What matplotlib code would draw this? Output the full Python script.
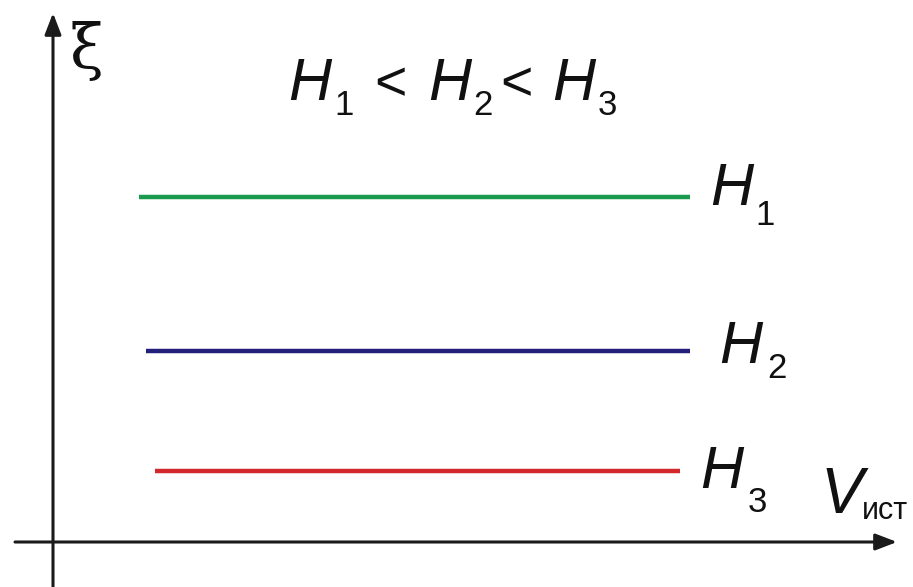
import matplotlib
matplotlib.use("Agg")
import matplotlib.pyplot as plt

# Levels of xi for the three heads and the V range each line covers
heads = ["1", "2", "3"]
xi_levels = [3.45, 1.91, 0.71]
v_start = [0.86, 0.93, 1.02]
v_end = [6.37, 6.37, 6.27]
line_colors = ["#1a9a4e", "#22207a", "#d2282c"]

W, H = 913, 587
fig = plt.figure(figsize=(W / 100, H / 100), dpi=100)
ax = fig.add_axes([0, 0, 1, 1])
# origin of the diagram sits at pixel (53, 542); 100 px per unit
ox, oy = 53, 542
ax.set_xlim(-ox / 100, (W - ox) / 100)
ax.set_ylim(-(H - oy) / 100, oy / 100)
ax.axis("off")

# coordinate axes with arrowheads
ax.annotate("", xy=(0, (oy - 13) / 100), xytext=(0, -(H - oy) / 100),
            arrowprops=dict(arrowstyle="-|>,head_length=1.3,head_width=0.5",
                            lw=2.2, color="#1a1a1a", shrinkA=0, shrinkB=0))
ax.annotate("", xy=((897 - ox) / 100, 0), xytext=(-(ox - 15) / 100, 0),
            arrowprops=dict(arrowstyle="-|>,head_length=1.3,head_width=0.5",
                            lw=2.2, color="#1a1a1a", shrinkA=0, shrinkB=0))

for xi, x0, x1, c in zip(xi_levels, v_start, v_end, line_colors):
    ax.plot([x0, x1], [xi, xi], color=c, lw=3.2, solid_capstyle="butt")


def px(x, y):
    return x / W, 1 - y / H


sans = "Liberation Sans"


def label(hx, hy, sx, sy, digit, big=43, small=25):
    fig.text(*px(hx, hy), "H", fontsize=big, family=sans, style="italic",
             ha="left", va="baseline", color="#111111")
    fig.text(*px(sx, sy), digit, fontsize=small, family=sans,
             ha="left", va="baseline", color="#111111")


# inequality at the top
label(288, 100, 334, 115, heads[0])
fig.text(*px(374, 100), "<", fontsize=40, family=sans, ha="left",
         va="baseline", color="#111111")
label(428, 100, 473, 115, heads[1])
fig.text(*px(500, 100), "<", fontsize=40, family=sans, ha="left",
         va="baseline", color="#111111")
label(552, 100, 598, 115, heads[2])

# labels next to the lines
label(710, 205, 755, 225, heads[0])
label(719, 363, 767, 378, heads[1])
label(700, 488, 748, 512, heads[2])

# axis names
fig.text(*px(70, 68), "ξ", fontsize=44, family="DejaVu Serif",
         ha="left", va="baseline", color="#111111")
fig.text(*px(820, 513), "V", fontsize=46, family=sans, style="italic",
         ha="left", va="baseline", color="#111111")
fig.text(*px(862, 519), "ист", fontsize=22, family=sans,
         ha="left", va="baseline", color="#111111")

fig.savefig("out.png", dpi=100)
